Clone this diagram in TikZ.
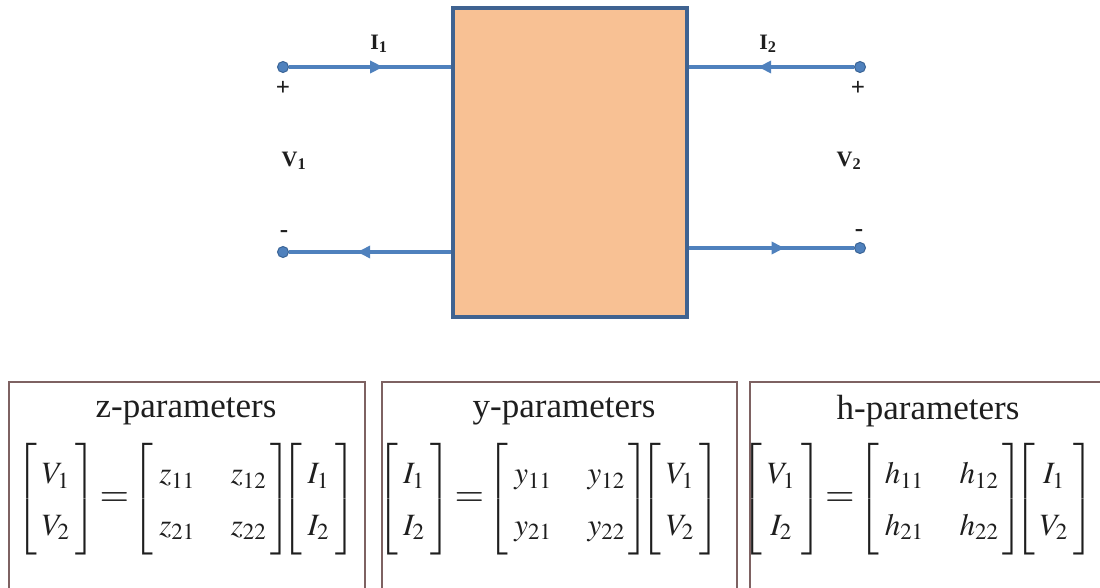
\documentclass[tikz,border=0pt]{standalone}
\usepackage{mathptmx}
\usepackage[no-math]{fontspec}
\setmainfont{Liberation Serif}
\usetikzlibrary{arrows.meta,decorations.markings}
\definecolor{wire}{HTML}{4F81BD}
\definecolor{wireedge}{HTML}{3A6496}
\definecolor{boxfill}{HTML}{F8C194}
\definecolor{boxedge}{HTML}{3F6391}
\definecolor{frameedge}{HTML}{7E6262}
\definecolor{txt}{HTML}{1E1E1E}
\newcommand{\vvec}[2]{{\left[\begin{array}{@{\hspace{5pt}}c@{\hspace{6pt}}}#1\\#2\end{array}\right]}}
\newcommand{\mmat}[4]{{\left[\begin{array}{@{\hspace{6pt}}c@{\hspace{36pt}}c@{\hspace{4pt}}}#1&#2\\#3&#4\end{array}\right]}}
\newcommand{\bigeq}{\mbox{\fontsize{38}{40}\selectfont$=$}}
\newcommand{\eqnrow}[3]{$\renewcommand\arraystretch{1.4}#1\,{\bigeq}\,#2\hspace{-9pt}#3$}
\begin{document}
\begin{tikzpicture}[x=1pt,y=-1pt,
  term/.style={circle,draw=wireedge,fill=wire,line width=1pt,inner sep=0pt,minimum size=11pt},
  wireline/.style={draw=wire,line width=3.5pt,postaction={decorate},
    decoration={markings,mark=at position 0.58 with {\arrow[wire]{Triangle[length=13pt,width=12pt]}}}},
  lbl/.style={font=\fontsize{22}{24}\selectfont\bfseries,text=txt,inner sep=0pt},
  sign/.style={font=\fontsize{25}{26}\selectfont\bfseries,text=txt,inner sep=0pt},
  frame/.style={draw=frameedge,line width=1.6pt},
  title/.style={font=\fontsize{35}{40}\selectfont,text=txt,inner sep=0pt},
  eqn/.style={font=\fontsize{31}{37}\selectfont,text=txt,inner sep=0pt}
]
\useasboundingbox (0,0) rectangle (1100,588);
\clip (0,0) rectangle (1100,588);
% two-port box
\node[draw=boxedge,fill=boxfill,line width=3.4pt,minimum width=234pt,minimum height=309pt,inner sep=0pt] (box) at (570,162.5) {};
% terminals
\node[term] (t1p) at (283,67) {};
\node[term] (t1m) at (283,252) {};
\node[term] (t2p) at (860,67) {};
\node[term] (t2m) at (860,248) {};
\coordinate (b1p) at (box.west |- t1p);
\coordinate (b1m) at (box.west |- t1m);
\coordinate (b2p) at (box.east |- t2p);
\coordinate (b2m) at (box.east |- t2m);
\draw[wireline] (t1p) -- (b1p);
\draw[wireline] (b1m) -- (t1m);
\draw[wireline] (t2p) -- (b2p);
\draw[wireline] (b2m) -- (t2m);
% labels
\node[lbl] (i1) at (379,44) {I\textsubscript{1}};
\node[lbl] (i2) at (768,44) {I\textsubscript{2}};
\node[lbl] (v1) at (294,161) {V\textsubscript{1}};
\node[lbl] (v2) at (849,161) {V\textsubscript{2}};
\node[sign] (p1) at (283,88) {+};
\node[sign] (p2) at (858,88) {+};
\node[sign] (m1) at (284,234) {-};
\node[sign] (m2) at (859,233) {-};
% parameter frames
\draw[frame] (9,382) rectangle (365,600);
\draw[frame] (382,382) rectangle (737,600);
\draw[frame] (750,382) rectangle (1110,600);
\node[title] (tz) at (186,411) {z-parameters};
\node[title] (ty) at (564,411) {y-parameters};
\node[title] (th) at (928,411) {h-parameters};
\node[eqn] (ez) at (186,499) {\eqnrow{\vvec{V_1}{V_2}}{\mmat{z_{11}}{z_{12}}{z_{21}}{z_{22}}}{\vvec{I_1}{I_2}}};
\node[eqn] (ey) at (549,499) {\eqnrow{\vvec{I_1}{I_2}}{\mmat{y_{11}}{y_{12}}{y_{21}}{y_{22}}}{\vvec{V_1}{V_2}}};
\node[eqn] (eh) at (918,499) {\eqnrow{\vvec{V_1}{I_2}}{\mmat{h_{11}}{h_{12}}{h_{21}}{h_{22}}}{\vvec{I_1}{V_2}}};
\end{tikzpicture}
\end{document}
